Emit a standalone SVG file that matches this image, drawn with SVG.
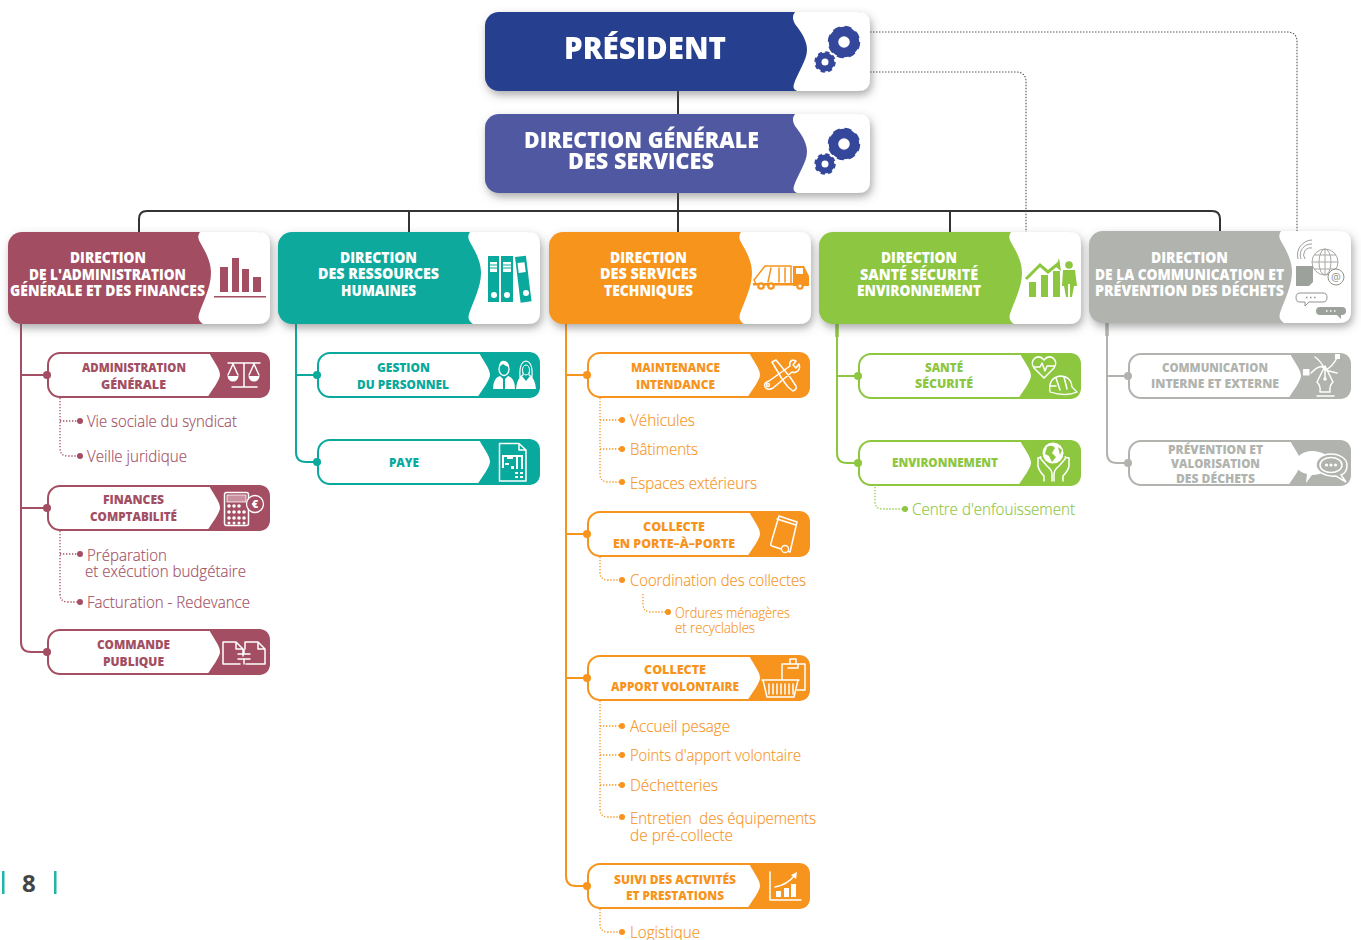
<svg xmlns="http://www.w3.org/2000/svg" width="1361" height="940" viewBox="0 0 1361 940">
<style>
text{font-family:"Open Sans","Noto Sans","Liberation Sans",sans-serif}
.bg{fill:#fff}
.burg{color:#a34e62}.teal{color:#0aa99d}.orange{color:#f7941e}.green{color:#8dc63f}.gray{color:#b1b3ae}
.burg,.teal,.orange,.green,.gray{fill:currentColor}
.h{font-weight:800;font-size:15px;fill:#fff}
.s{font-weight:800;font-size:12.5px;fill:currentColor}
.i{font-weight:300;font-size:16px;fill:currentColor;stroke:currentColor;stroke-width:.15}
.i2{font-weight:300;font-size:14px;fill:currentColor;stroke:currentColor;stroke-width:.15}
.top{font-weight:800;fill:#fff}
.trunk{fill:none;stroke:currentColor;stroke-width:2}
.stub{fill:none;stroke:currentColor;stroke-width:3.5}
.dots{fill:none;stroke:currentColor;stroke-width:1.3;stroke-dasharray:1.3 1.7}
.main{fill:none;stroke:#333;stroke-width:2}
.assist{fill:none;stroke:#555;stroke-width:1.1;stroke-dasharray:1.5 1.5}
.wl{fill:none;stroke:#fff;stroke-width:1.5;stroke-linecap:round;stroke-linejoin:round}
.wf{fill:#fff;stroke:none}
.cl{fill:none;stroke:currentColor;stroke-width:1.5;stroke-linecap:round;stroke-linejoin:round}
.cf{fill:currentColor;stroke:none}
</style>
<defs>
<filter id="sh" x="-10%" y="-15%" width="125%" height="140%"><feDropShadow dx="2" dy="4" stdDeviation="4.5" flood-color="#555" flood-opacity="0.5"/></filter>
<g id="head"><rect width="262" height="92" rx="14" fill="currentColor"/><path class="bg" d="M192,0Q188,5 193,12C200,24 203,32 203,41C203,55 195,70 191,82Q189,88 195,92H250Q262,92 262,80V12Q262,0 250,0Z"/></g>
<g id="sub"><rect x="1" y="1" width="221" height="44" rx="12" fill="#fff" stroke="currentColor" stroke-width="2"/><path fill="currentColor" d="M162,0C164,6 173,16 173,23C173,28 165,38 160,46H211Q223,46 223,34V12Q223,0 211,0Z"/></g>
<g id="topbox"><rect width="385" height="79" rx="14" fill="currentColor"/><path class="bg" d="M310,0Q306,5 310,12C318,22 322,30 322,38C322,48 312,62 309,72Q307,77 312,79H373Q385,79 385,67V12Q385,0 373,0Z"/></g>
<g id="gears"><g fill="none" stroke="#34479a"><circle cx="359" cy="30" r="10.5" stroke-width="9.5"/><circle cx="359" cy="30" r="14" stroke-width="4.5" stroke-dasharray="6.6 4.4"/><circle cx="340" cy="50" r="6.5" stroke-width="6"/><circle cx="340" cy="50" r="9" stroke-width="3.5" stroke-dasharray="4 3.07"/></g></g>
</defs>

<g id="connectors">
<path class="main" d="M678,91V114M678,193V232M139,232V219Q139,211 147,211H1212Q1220,211 1220,219V232M409,211V232M950,211V232"/>
<path class="assist" d="M870,32H1287Q1297,32 1297,42V232M870,72H1016Q1026,72 1026,82V232"/>
<g class="burg"><path class="trunk" d="M21,324V642Q21,652 31,652H47M21,375H47M21,508H47"/>
<path class="dots" d="M60,398V448Q60,456 68,456H80M60,421H80M60,531V594Q60,602 68,602H80M60,554H80"/></g>
<g class="teal"><path class="trunk" d="M296,324V452Q296,462 306,462H317M296,375H317"/></g>
<g class="orange"><path class="trunk" d="M566,324V876Q566,886 576,886H587M566,375H587M566,534H587M566,678H587"/>
<path class="dots" d="M600,398V474Q600,482 608,482H622M600,420H622M600,449H622M600,557V572Q600,580 608,580H622M643,594V604Q643,612 651,612H668M600,701V809Q600,817 608,817H622M600,726H622M600,755H622M600,785H622M600,909V924Q600,932 608,932H622"/></g>
<g class="green"><path class="trunk" d="M837,324V453Q837,463 847,463H858M837,376H858"/><path class="stub" d="M837,324V337"/>
<path class="dots" d="M875,487V501Q875,509 883,509H905"/></g>
<g class="gray"><path class="trunk" d="M1107,323V453Q1107,463 1117,463H1128M1107,376H1128"/><path class="stub" d="M1107,323V336"/></g>
</g>

<g id="president" style="color:#25408f" filter="url(#sh)" transform="translate(485,12)"><use href="#topbox"/><use href="#gears"/><text class="top" x="79" y="47" font-size="30" textLength="162" lengthAdjust="spacingAndGlyphs">PRÉSIDENT</text></g>
<g id="dgs" style="color:#5059a0" filter="url(#sh)" transform="translate(485,114)"><use href="#topbox"/><use href="#gears"/><text class="top" x="39" y="34" font-size="23" textLength="235" lengthAdjust="spacingAndGlyphs">DIRECTION GÉNÉRALE</text><text class="top" x="83" y="55" font-size="23" textLength="146" lengthAdjust="spacingAndGlyphs">DES SERVICES</text></g>

<g id="dir-admin" class="burg">
<g filter="url(#sh)"><use href="#head" x="8" y="232"/></g>
<g class="cf"><rect x="220" y="267" width="8" height="25"/><rect x="232" y="258" width="7" height="34"/><rect x="242" y="269" width="7" height="23"/><rect x="253" y="277" width="8" height="15"/><rect x="214" y="296" width="52" height="1.5"/></g>
<text class="h" x="70" y="263" textLength="76" lengthAdjust="spacingAndGlyphs">DIRECTION</text><text class="h" x="29" y="280" textLength="157" lengthAdjust="spacingAndGlyphs">DE L'ADMINISTRATION</text><text class="h" x="10" y="296" textLength="195" lengthAdjust="spacingAndGlyphs">GÉNÉRALE ET DES FINANCES</text>
</g>
<g id="dir-rh" class="teal">
<g filter="url(#sh)"><use href="#head" x="278" y="232"/></g>
<g class="cf"><rect x="488" y="256" width="11" height="46"/><rect x="501" y="256" width="12" height="46"/><rect x="0" y="0" width="11" height="46" transform="translate(515,257) rotate(-7)"/></g>
<g fill="#fff"><rect x="490" y="262" width="7" height="10"/><rect x="503" y="262" width="8" height="10"/><rect x="0" y="0" width="7" height="10" transform="translate(517.5,263) rotate(-7)"/><circle cx="494" cy="295" r="3"/><circle cx="507" cy="295" r="3"/><circle cx="526" cy="293" r="3"/></g>
<path d="M490,265H497M490,268H497M503,265H511M503,268H511" stroke="#0aa99d" fill="none"/>
<text class="h" x="340" y="263" textLength="77" lengthAdjust="spacingAndGlyphs">DIRECTION</text><text class="h" x="318" y="279" textLength="121" lengthAdjust="spacingAndGlyphs">DES RESSOURCES</text><text class="h" x="341" y="296" textLength="75" lengthAdjust="spacingAndGlyphs">HUMAINES</text>
</g>
<g id="dir-tech" class="orange">
<g filter="url(#sh)"><use href="#head" x="549" y="232"/></g>
<path class="cl" d="M765,266H791V284H778M765,266L754,280L756,284M771,268L768,282M779,268V282M785,268V282"/>
<path class="cf" d="M793,266H804L809,276V286H793Z"/><rect x="796" y="268" width="7" height="6" fill="#fff"/><rect x="753" y="283" width="40" height="2.5"/>
<g class="cf"><circle cx="761" cy="286" r="3.8"/><circle cx="771" cy="286" r="3.8"/><circle cx="800" cy="286" r="3.8"/></g><g fill="#fff"><circle cx="761" cy="286" r="1.6"/><circle cx="771" cy="286" r="1.6"/><circle cx="800" cy="286" r="1.6"/></g>
<text class="h" x="610" y="263" textLength="77" lengthAdjust="spacingAndGlyphs">DIRECTION</text><text class="h" x="600" y="279" textLength="97" lengthAdjust="spacingAndGlyphs">DES SERVICES</text><text class="h" x="604" y="296" textLength="89" lengthAdjust="spacingAndGlyphs">TECHNIQUES</text>
</g>
<g id="dir-sse" class="green">
<g filter="url(#sh)"><use href="#head" x="819" y="232"/></g>
<g class="cf"><rect x="1029" y="282" width="7" height="15"/><rect x="1041" y="275" width="7" height="22"/><rect x="1053" y="271" width="7" height="26"/><circle cx="1069" cy="265" r="3.8"/><path d="M1063,270H1075L1077,286H1074L1072,297H1070V284H1068V297H1066L1064,286H1062Z"/><path d="M1059,258L1061,271L1056,267Z"/></g>
<path fill="none" stroke="currentColor" stroke-width="3" d="M1026,279L1040,265L1048,272L1059,263"/>
<text class="h" x="881" y="263" textLength="76" lengthAdjust="spacingAndGlyphs">DIRECTION</text><text class="h" x="860" y="280" textLength="118" lengthAdjust="spacingAndGlyphs">SANTÉ SÉCURITÉ</text><text class="h" x="857" y="296" textLength="124" lengthAdjust="spacingAndGlyphs">ENVIRONNEMENT</text>
</g>
<g id="dir-com" class="gray">
<g filter="url(#sh)"><use href="#head" x="1089" y="231"/></g>
<path d="M1298,259A15,15 0 0 1 1312,240M1301,259A11,11 0 0 1 1312,244M1305,259A7,7 0 0 1 1312,248" fill="none" stroke="#8f938d" stroke-width="0.9"/>
<g fill="none" stroke="#a6a9a4" stroke-width="1"><circle cx="1325" cy="262" r="13"/><ellipse cx="1325" cy="262" rx="6" ry="13"/><path d="M1312,262H1338M1314,255H1336M1314,269H1336M1325,249V275"/></g>
<path fill="#9da19b" d="M1296,266H1313V282L1309,286H1296Z"/>
<circle cx="1336" cy="277" r="8" fill="#fff" stroke="#8f938d"/><text x="1336" y="281" font-size="11" text-anchor="middle" fill="#8f938d">@</text>
<path fill="none" stroke="#8f938d" d="M1300,293H1323Q1327,293 1327,297.500Q1327,302 1323,302H1309L1305,306V302H1300Q1296,302 1296,297.500Q1296,293 1300,293Z"/>
<path fill="#9da19b" d="M1320,307H1342Q1346,307 1346,311Q1346,315 1342,315H1341V319L1337,315H1320Q1316,315 1316,311Q1316,307 1320,307Z"/>
<path d="M1306,297.500H1318" stroke="#8f938d" fill="none" stroke-width="1.500" stroke-dasharray="1.500 2.500"/><path d="M1326,311H1336" stroke="#fff" fill="none" stroke-width="1.500" stroke-dasharray="1.500 2.500"/>
<text class="h" x="1151" y="263" textLength="77" lengthAdjust="spacingAndGlyphs">DIRECTION</text><text class="h" x="1095" y="280" textLength="189" lengthAdjust="spacingAndGlyphs">DE LA COMMUNICATION ET</text><text class="h" x="1095" y="296" textLength="189" lengthAdjust="spacingAndGlyphs">PRÉVENTION DES DÉCHETS</text>
</g>

<g id="s-admin" class="burg"><use href="#sub" x="47" y="352"/><circle cx="47" cy="375" r="4"/>
<path class="wl" stroke-width="1" d="M228,363H260M244,363V386M232,387H257M233,364L228,375M233,364L238,375M254,364L249,375M254,364L259,375"/><path class="wf" d="M227.500,376H238.500A5.500,5.500 0 0 1 227.500,376ZM248.500,376H259.500A5.500,5.500 0 0 1 248.500,376Z"/>
<text class="s" x="82" y="372" textLength="104" lengthAdjust="spacingAndGlyphs">ADMINISTRATION</text><text class="s" x="101" y="389" textLength="65" lengthAdjust="spacingAndGlyphs">GÉNÉRALE</text>
<circle cx="80" cy="421" r="3"/><text class="i" x="87" y="427" textLength="150" lengthAdjust="spacingAndGlyphs">Vie sociale du syndicat</text><circle cx="80" cy="456" r="3"/><text class="i" x="87" y="462" textLength="100" lengthAdjust="spacingAndGlyphs">Veille juridique</text></g>

<g id="s-fin" class="burg"><use href="#sub" x="47" y="485"/><circle cx="47" cy="508" r="4"/>
<rect class="wl" x="224.500" y="492.500" width="24" height="33" rx="2"/><rect x="227" y="495" width="19" height="7" fill="#c9919f" stroke="#fff" stroke-width=".8"/>
<g fill="#fff"><circle cx="229" cy="506" r="1.800"/><circle cx="234" cy="506" r="1.800"/><circle cx="239" cy="506" r="1.800"/><circle cx="229" cy="512" r="1.800"/><circle cx="234" cy="512" r="1.800"/><circle cx="239" cy="512" r="1.800"/><circle cx="244" cy="512" r="1.800"/><circle cx="229" cy="518" r="1.800"/><circle cx="234" cy="518" r="1.800"/><circle cx="239" cy="518" r="1.800"/><circle cx="244" cy="518" r="1.800"/><circle cx="229" cy="523" r="1.500"/><circle cx="234" cy="523" r="1.500"/><circle cx="239" cy="523" r="1.500"/><circle cx="244" cy="523" r="1.500"/></g>
<circle cx="255" cy="504" r="8.500" fill="#a34e62" stroke="#fff" stroke-width="1.300"/><text x="255" y="508" font-size="11" font-weight="800" text-anchor="middle" fill="#fff">€</text>
<text class="s" x="103" y="504" textLength="61" lengthAdjust="spacingAndGlyphs">FINANCES</text><text class="s" x="90" y="521" textLength="87" lengthAdjust="spacingAndGlyphs">COMPTABILITÉ</text>
<circle cx="80" cy="554" r="3"/><text class="i" x="87" y="561" textLength="80" lengthAdjust="spacingAndGlyphs">Préparation</text><text class="i" x="85" y="577" textLength="161" lengthAdjust="spacingAndGlyphs">et exécution budgétaire</text><circle cx="80" cy="602" r="3"/><text class="i" x="87" y="608" textLength="163" lengthAdjust="spacingAndGlyphs">Facturation - Redevance</text></g>

<g id="s-cmd" class="burg"><use href="#sub" x="47" y="629"/><circle cx="47" cy="652" r="4"/>
<path class="wl" stroke-width="2" d="M240,664H223V642H236L243,649V656M245,649V642H258L265,649V664H246M236,642V649H243M258,642V649H265M238,654H250M238,659H250M244,650V654M244,659V664"/>
<text class="s" x="97" y="649" textLength="73" lengthAdjust="spacingAndGlyphs">COMMANDE</text><text class="s" x="103" y="666" textLength="61" lengthAdjust="spacingAndGlyphs">PUBLIQUE</text></g>

<g id="s-gestion" class="teal"><use href="#sub" x="317" y="352"/><circle cx="317" cy="375" r="4"/>
<path class="wf" d="M493,389Q493,378 500,376L504,380L508,376Q515,378 515,389Z"/><path d="M504,379V389" stroke="#0aa99d" stroke-width="2"/>
<ellipse cx="504" cy="369" rx="5" ry="6.500" fill="#0aa99d" stroke="#fff" stroke-width="1.300"/><path class="wf" d="M499,366Q500,360 505,361Q509,362 509,367Q505,366 503,364Q501,366 499,366Z"/>
<path class="wf" d="M516,389Q517,378 522,376L526,381L530,376Q535,378 536,389Z"/>
<path d="M520,377Q519,362 526,361Q533,362 532,377L529,375V371H523V375Z" fill="#0aa99d" stroke="#fff" stroke-width="1.200"/><ellipse cx="526" cy="370" rx="3.500" ry="5" fill="#0aa99d" stroke="#fff"/>
<text class="s" x="377" y="372" textLength="53" lengthAdjust="spacingAndGlyphs">GESTION</text><text class="s" x="357" y="389" textLength="92" lengthAdjust="spacingAndGlyphs">DU PERSONNEL</text></g>

<g id="s-paye" class="teal"><use href="#sub" x="317" y="439"/><circle cx="317" cy="462" r="4"/>
<path class="wl" stroke-width="1.200" d="M499.500,443.500H519L526,450V481H499.500ZM519,443.500V450H526"/><g fill="#fff"><rect x="502" y="455" width="21" height="2"/><rect x="502" y="457" width="2" height="11"/><rect x="507" y="457" width="6" height="2"/><rect x="516" y="457" width="2" height="12"/><rect x="521" y="457" width="2" height="12"/><rect x="505" y="463" width="4" height="2"/><rect x="511" y="466" width="3" height="3"/><rect x="515" y="472" width="3" height="2"/><rect x="520" y="472" width="3" height="2"/><rect x="515" y="476" width="3" height="2"/><rect x="520" y="476" width="3" height="2"/></g>
<text class="s" x="389" y="467" textLength="30" lengthAdjust="spacingAndGlyphs">PAYE</text></g>

<g id="s-maint" class="orange"><use href="#sub" x="587" y="352"/><circle cx="587" cy="375" r="4"/>
<path class="wl" stroke-width="1.300" d="M772,362L776,360L790,377L796,386Q797,390 793,391L788,387L782,379ZM769,381L790,366Q789,361 793,360L796,361L793,365L796,368L799,364Q801,370 796,372Q794,373 792,372L773,388Q768,391 765,387Q763,383 769,381Z"/><circle class="wl" cx="768" cy="385" r="1.500"/>
<text class="s" x="631" y="372" textLength="89" lengthAdjust="spacingAndGlyphs">MAINTENANCE</text><text class="s" x="636" y="389" textLength="79" lengthAdjust="spacingAndGlyphs">INTENDANCE</text>
<circle cx="622" cy="420" r="3"/><text class="i" x="630" y="426" textLength="65" lengthAdjust="spacingAndGlyphs">Véhicules</text><circle cx="622" cy="449" r="3"/><text class="i" x="630" y="455" textLength="68" lengthAdjust="spacingAndGlyphs">Bâtiments</text><circle cx="622" cy="482" r="3"/><text class="i" x="630" y="489" textLength="127" lengthAdjust="spacingAndGlyphs">Espaces extérieurs</text></g>

<g id="s-porte" class="orange"><use href="#sub" x="587" y="511"/><circle cx="587" cy="534" r="4"/>
<path class="wl" stroke-width="1.400" d="M779,516L797,522L790,552L772,546Q770,545 771,543ZM777,519L796,525"/><circle cx="785" cy="549" r="3.500" fill="#f7941e" stroke="#fff" stroke-width="1.300"/>
<text class="s" x="643" y="531" textLength="62" lengthAdjust="spacingAndGlyphs">COLLECTE</text><text class="s" x="613" y="548" textLength="122" lengthAdjust="spacingAndGlyphs">EN PORTE–À–PORTE</text>
<circle cx="622" cy="580" r="3"/><text class="i" x="630" y="586" textLength="176" lengthAdjust="spacingAndGlyphs">Coordination des collectes</text><circle cx="668" cy="612" r="3"/><text class="i2" x="675" y="618" textLength="115" lengthAdjust="spacingAndGlyphs">Ordures ménagères</text><text class="i2" x="675" y="633" textLength="80" lengthAdjust="spacingAndGlyphs">et recyclables</text></g>

<g id="s-apport" class="orange"><use href="#sub" x="587" y="655"/><circle cx="587" cy="678" r="4"/>
<path class="wl" stroke-width="1.200" d="M782,664H805V690H797M782,664V679M790,664V659H796V664M788,668H798V664"/><path class="wl" stroke-width="1.500" d="M763,680H798L794,697H767ZM762,680H799"/><path class="wl" stroke-width="1.300" d="M769,684V694M773,684V694M777,684V694M781,684V694M785,684V694M789,684V694M793,684V694"/>
<text class="s" x="644" y="674" textLength="62" lengthAdjust="spacingAndGlyphs">COLLECTE</text><text class="s" x="611" y="691" textLength="128" lengthAdjust="spacingAndGlyphs">APPORT VOLONTAIRE</text>
<circle cx="622" cy="726" r="3"/><text class="i" x="630" y="732" textLength="100" lengthAdjust="spacingAndGlyphs">Accueil pesage</text><circle cx="622" cy="755" r="3"/><text class="i" x="630" y="761" textLength="171" lengthAdjust="spacingAndGlyphs">Points d'apport volontaire</text><circle cx="622" cy="785" r="3"/><text class="i" x="630" y="791" textLength="88" lengthAdjust="spacingAndGlyphs">Déchetteries</text><circle cx="622" cy="817" r="3"/><text class="i" x="630" y="824" textLength="186" lengthAdjust="spacingAndGlyphs" xml:space="preserve">Entretien  des équipements</text><text class="i" x="630" y="841" textLength="103" lengthAdjust="spacingAndGlyphs">de pré-collecte</text></g>

<g id="s-suivi" class="orange"><use href="#sub" x="587" y="863"/><circle cx="587" cy="886" r="4"/>
<path class="wl" stroke-width="2" d="M770,872V900H801"/><g class="wf"><rect x="776" y="891" width="5" height="6"/><rect x="784" y="888" width="5" height="9"/><rect x="791" y="884" width="5" height="13"/></g><path class="wl" d="M775,887Q787,885 795,875"/><path class="wf" d="M791,875L797,872L796,879Z"/>
<text class="s" x="614" y="884" textLength="122" lengthAdjust="spacingAndGlyphs">SUIVI DES ACTIVITÉS</text><text class="s" x="626" y="900" textLength="98" lengthAdjust="spacingAndGlyphs">ET PRESTATIONS</text>
<circle cx="622" cy="932" r="3"/><text class="i" x="630" y="938" textLength="70" lengthAdjust="spacingAndGlyphs">Logistique</text></g>

<g id="s-sante" class="green"><use href="#sub" x="858" y="353"/><circle cx="858" cy="376" r="4"/>
<path class="wl" stroke-width="1.200" d="M1044,378L1034,368Q1030,362 1035,358Q1040,355 1044,360Q1048,355 1053,358Q1058,362 1054,368ZM1034,367H1040L1042,363L1045,371L1047,366H1055"/><path d="M1050,392Q1048,378 1060,376Q1071,376 1072,387L1077,392Q1066,397 1050,392Z" fill="#8dc63f" stroke="#fff" stroke-width="1.300"/><path class="wl" stroke-width="1" d="M1056,378L1060,390M1064,377L1067,389M1050,386H1056"/>
<text class="s" x="925" y="372" textLength="38" lengthAdjust="spacingAndGlyphs">SANTÉ</text><text class="s" x="915" y="388" textLength="58" lengthAdjust="spacingAndGlyphs">SÉCURITÉ</text></g>

<g id="s-env" class="green"><use href="#sub" x="858" y="440"/><circle cx="858" cy="463" r="4"/>
<circle class="wf" cx="1053" cy="453" r="10.500"/><path d="M1047,447Q1052,444 1055,448L1052,453L1056,457L1052,462L1049,456L1045,454ZM1058,447L1062,450L1060,455Z" fill="#8dc63f"/>
<path class="wl" stroke-width="1.300" d="M1052,481V474Q1052,470 1047,466L1041,459Q1039,457 1041,457L1038,458V466Q1039,471 1044,476V481M1054,481V474Q1054,470 1059,466L1065,459Q1067,457 1065,457L1069,458V466Q1068,471 1063,476V481"/>
<text class="s" x="892" y="467" textLength="106" lengthAdjust="spacingAndGlyphs">ENVIRONNEMENT</text>
<circle cx="905" cy="509" r="3"/><text class="i" x="912" y="515" textLength="163" lengthAdjust="spacingAndGlyphs">Centre d'enfouissement</text></g>

<g id="s-comm" class="gray"><use href="#sub" x="1128" y="353"/><circle cx="1128" cy="376" r="4"/>
<path class="wl" stroke-width="1" d="M1311,373Q1322,362 1325,370Q1332,368 1338,356M1315,357Q1322,362 1325,370M1325,370L1337,373"/><rect class="wf" x="1303" y="369" width="6.500" height="6.500"/><rect class="wf" x="1335" y="354" width="5" height="5"/>
<path class="wl" stroke-width="1.400" d="M1325,366L1333,382Q1329,386 1330,392H1320Q1321,386 1317,382ZM1325,366V378"/><path class="wl" stroke-width="2" d="M1317,396H1334"/><circle class="wf" cx="1325" cy="379" r="1.800"/>
<text class="s" x="1162" y="372" textLength="106" lengthAdjust="spacingAndGlyphs">COMMUNICATION</text><text class="s" x="1151" y="388" textLength="128" lengthAdjust="spacingAndGlyphs">INTERNE ET EXTERNE</text></g>

<g id="s-prev" class="gray"><use href="#sub" x="1128" y="440"/><circle cx="1128" cy="463" r="4"/>
<path class="wf" d="M1312,451C1322,451 1331,456 1331,463C1331,470 1322,475 1312,475L1306,483L1307,474C1299,472 1296,468 1296,463C1296,456 1303,451 1312,451Z"/>
<path d="M1331,454C1340,454 1347,459 1347,465C1347,471 1344,474 1341,475L1346,482L1336,476C1326,477 1316,472 1316,465C1316,459 1322,454 1331,454Z" fill="#b1b3ae" stroke="#fff" stroke-width="1.500"/><ellipse cx="1331" cy="465" rx="11" ry="7.500" class="wl" stroke-width="1"/><circle class="wf" cx="1326.500" cy="465" r="1.600"/><circle class="wf" cx="1331" cy="465" r="1.600"/><circle class="wf" cx="1335.500" cy="465" r="1.600"/>
<text class="s" x="1168" y="454" textLength="95" lengthAdjust="spacingAndGlyphs">PRÉVENTION ET</text><text class="s" x="1171" y="468" textLength="89" lengthAdjust="spacingAndGlyphs">VALORISATION</text><text class="s" x="1176" y="483" textLength="79" lengthAdjust="spacingAndGlyphs">DES DÉCHETS</text></g>

<g id="page"><rect x="2" y="871" width="2.500" height="23" fill="#1fb5a8"/><rect x="54" y="871" width="2.500" height="23" fill="#1fb5a8"/><text x="22" y="892" font-size="24" font-weight="700" fill="#444">8</text></g>
</svg>
